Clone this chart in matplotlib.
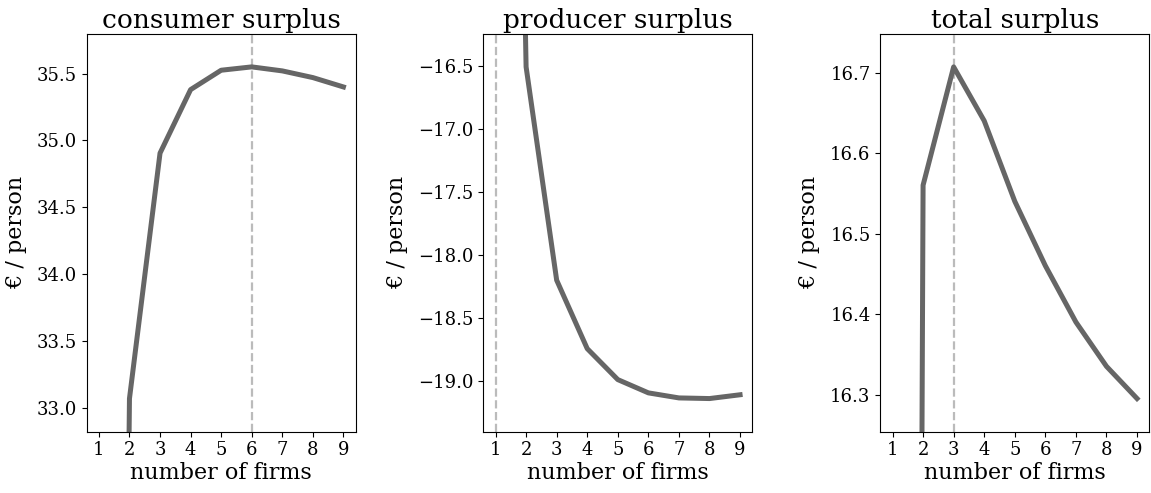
import numpy as np
import matplotlib
matplotlib.use("Agg")
import matplotlib.pyplot as plt

plt.rcParams['font.family'] = 'DejaVu Serif'

# --- data ---
firms = [1, 2, 3, 4, 5, 6, 7, 8, 9]
consumer = [12.0, 33.07, 34.905, 35.38, 35.525, 35.55, 35.52, 35.47, 35.40]
producer = [-4.0, -16.51, -18.198, -18.74, -18.985, -19.09, -19.13, -19.135, -19.105]
total = [c + p for c, p in zip(consumer, producer)]

titles = ["consumer surplus", "producer surplus", "total surplus"]
series = [consumer, producer, total]

fig = plt.figure(figsize=(11.51, 4.93), dpi=100)
lefts = [0.0753, 0.4199, 0.7648]

for left, title, y in zip(lefts, titles, series):
    ax = fig.add_axes([left, 0.1243, 0.2337, 0.8073])
    y = np.array(y)
    # dashed marker at the maximum
    ax.axvline(firms[int(np.argmax(y))], color='#bbbbbb', ls='--', lw=1.6)
    ax.plot(firms, y, color='#666666', lw=3.6)
    # limits from the 2+ firm values with a 10% margin
    lo, hi = y[1:].min(), y[1:].max()
    pad = 0.1 * (hi - lo)
    ax.set_ylim(lo - pad, hi + pad)
    ax.set_xlim(0.6, 9.4)
    ax.set_xticks(firms)
    ax.set_title(title, fontsize=19, pad=4)
    ax.set_xlabel("number of firms", fontsize=16, labelpad=2)
    ax.set_ylabel("€ / person", fontsize=16, labelpad=7)
    ax.tick_params(labelsize=13)

fig.savefig("out.png", dpi=100)
